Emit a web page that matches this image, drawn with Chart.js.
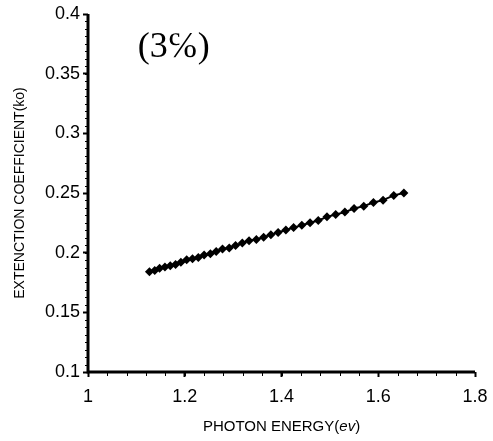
<!DOCTYPE html>
<html>
<head>
<meta charset="utf-8">
<script src="https://cdn.jsdelivr.net/npm/chart.js@4/dist/chart.umd.min.js"></script>
<style>
  html, body { margin: 0; padding: 0; background: #fff; }
  #wrap { width: 493px; height: 441px; }
</style>
</head>
<body>
<div id="wrap"><canvas id="myChart" width="493" height="441"></canvas></div>
<script>
// photon energy (ev)
var energy = [1.127, 1.138, 1.148, 1.159, 1.170, 1.181, 1.192, 1.204, 1.216, 1.228,
              1.240, 1.253, 1.265, 1.278, 1.292, 1.305, 1.319, 1.333, 1.348, 1.363,
              1.378, 1.393, 1.409, 1.425, 1.442, 1.459, 1.476, 1.494, 1.512, 1.531,
              1.550, 1.570, 1.590, 1.610, 1.632, 1.653];
// extinction coefficient (ko)
var ko = [0.184, 0.185, 0.187, 0.188, 0.189, 0.190, 0.192, 0.194, 0.195, 0.196,
          0.198, 0.199, 0.201, 0.203, 0.204, 0.206, 0.208, 0.210, 0.211, 0.213,
          0.215, 0.217, 0.219, 0.221, 0.223, 0.225, 0.227, 0.230, 0.232, 0.234,
          0.237, 0.239, 0.242, 0.244, 0.248, 0.250];

var xTicks = [1, 1.2, 1.4, 1.6, 1.8];
var yTicks = [0.1, 0.15, 0.2, 0.25, 0.3, 0.35, 0.4];
var xMinorStep = 0.04;
var yMinorStep = 0.00625;
var note = '(3\u2105)';

var points = energy.map(function (e, i) { return { x: e, y: ko[i] }; });
var sans = '"Liberation Sans", Arial, sans-serif';

// axis lines, minor ticks, x title with italic unit, "(3%)" label
var extras = {
    id: 'extras',
    afterDraw: function (chart) {
        var c = chart.ctx;
        var xs = chart.scales.x, ys = chart.scales.y;
        c.save();
        c.strokeStyle = '#000';
        c.lineWidth = 1;
        c.beginPath();
        for (var v = xs.min; v <= xs.max + 1e-9; v += xMinorStep) {
            var px = Math.round(xs.getPixelForValue(v)) + 0.5;
            c.moveTo(px, ys.bottom);
            c.lineTo(px, ys.bottom + 4);
        }
        for (var w = ys.min; w <= ys.max + 1e-9; w += yMinorStep) {
            var py = Math.round(ys.getPixelForValue(w)) + 0.5;
            c.moveTo(xs.left - 3, py);
            c.lineTo(xs.left, py);
        }
        c.stroke();

        c.lineWidth = 3;
        c.beginPath();
        c.moveTo(xs.left, ys.top);
        c.lineTo(xs.left, ys.bottom);
        c.lineTo(xs.right, ys.bottom);
        c.stroke();

        // x title
        c.fillStyle = '#000';
        c.textBaseline = 'alphabetic';
        c.textAlign = 'left';
        var part1 = 'PHOTON ENERGY(', part2 = 'ev', part3 = ')';
        c.font = '15px ' + sans;
        var w1 = c.measureText(part1).width, w3 = c.measureText(part3).width;
        c.font = 'italic 15px ' + sans;
        var w2 = c.measureText(part2).width;
        var cx = (xs.left + xs.right) / 2;
        var x0 = cx - (w1 + w2 + w3) / 2;
        var ty = 431;
        c.font = '15px ' + sans;
        c.fillText(part1, x0, ty);
        c.font = 'italic 15px ' + sans;
        c.fillText(part2, x0 + w1, ty);
        c.font = '15px ' + sans;
        c.fillText(part3, x0 + w1 + w2, ty);

        c.font = '36px "Liberation Serif", "Times New Roman", serif';
        c.textBaseline = 'middle';
        c.fillText(note, xs.getPixelForValue(1.103), ys.getPixelForValue(0.372));
        c.restore();
    }
};

var ctx = document.getElementById('myChart').getContext('2d');
var myChart = new Chart(ctx, {
    type: 'scatter',
    data: {
        datasets: [{
            data: points,
            showLine: true,
            borderColor: '#000',
            borderWidth: 2,
            backgroundColor: '#000',
            pointStyle: 'rectRot',
            pointRadius: 4.5,
            pointBorderWidth: 0
        }]
    },
    options: {
        responsive: false,
        animation: false,
        layout: { padding: { top: 14, right: 18, left: 0, bottom: 0 } },
        plugins: { legend: { display: false }, tooltip: { enabled: false } },
        scales: {
            x: {
                type: 'linear',
                min: 1, max: 1.8,
                afterBuildTicks: function (s) { s.ticks = xTicks.map(function (v) { return { value: v }; }); },
                afterFit: function (s) { s.height = 69; s.paddingRight = 0; s.paddingLeft = 0; },
                border: { display: false },
                grid: { display: true, drawOnChartArea: false, tickLength: 5, tickColor: '#000', tickWidth: 2 },
                ticks: {
                    color: '#000', padding: 9,
                    font: { family: sans, size: 18 },
                    callback: function (v) { return String(v); }
                }
            },
            y: {
                type: 'linear',
                min: 0.1, max: 0.4,
                afterBuildTicks: function (s) { s.ticks = yTicks.map(function (v) { return { value: v }; }); },
                afterFit: function (s) { s.width = 88; s.paddingTop = 0; s.paddingBottom = 0; },
                border: { display: false },
                grid: { display: true, drawOnChartArea: false, tickLength: 5, tickColor: '#000', tickWidth: 2 },
                ticks: {
                    color: '#000', padding: 3,
                    font: { family: sans, size: 18 },
                    callback: function (v) { return String(v); }
                },
                title: {
                    display: true,
                    text: 'EXTENCTION COEFFICIENT(ko)',
                    color: '#000',
                    font: { family: sans, size: 14 },
                    padding: { top: 12, bottom: 4 }
                }
            }
        }
    },
    plugins: [extras]
});
</script>
</body>
</html>
